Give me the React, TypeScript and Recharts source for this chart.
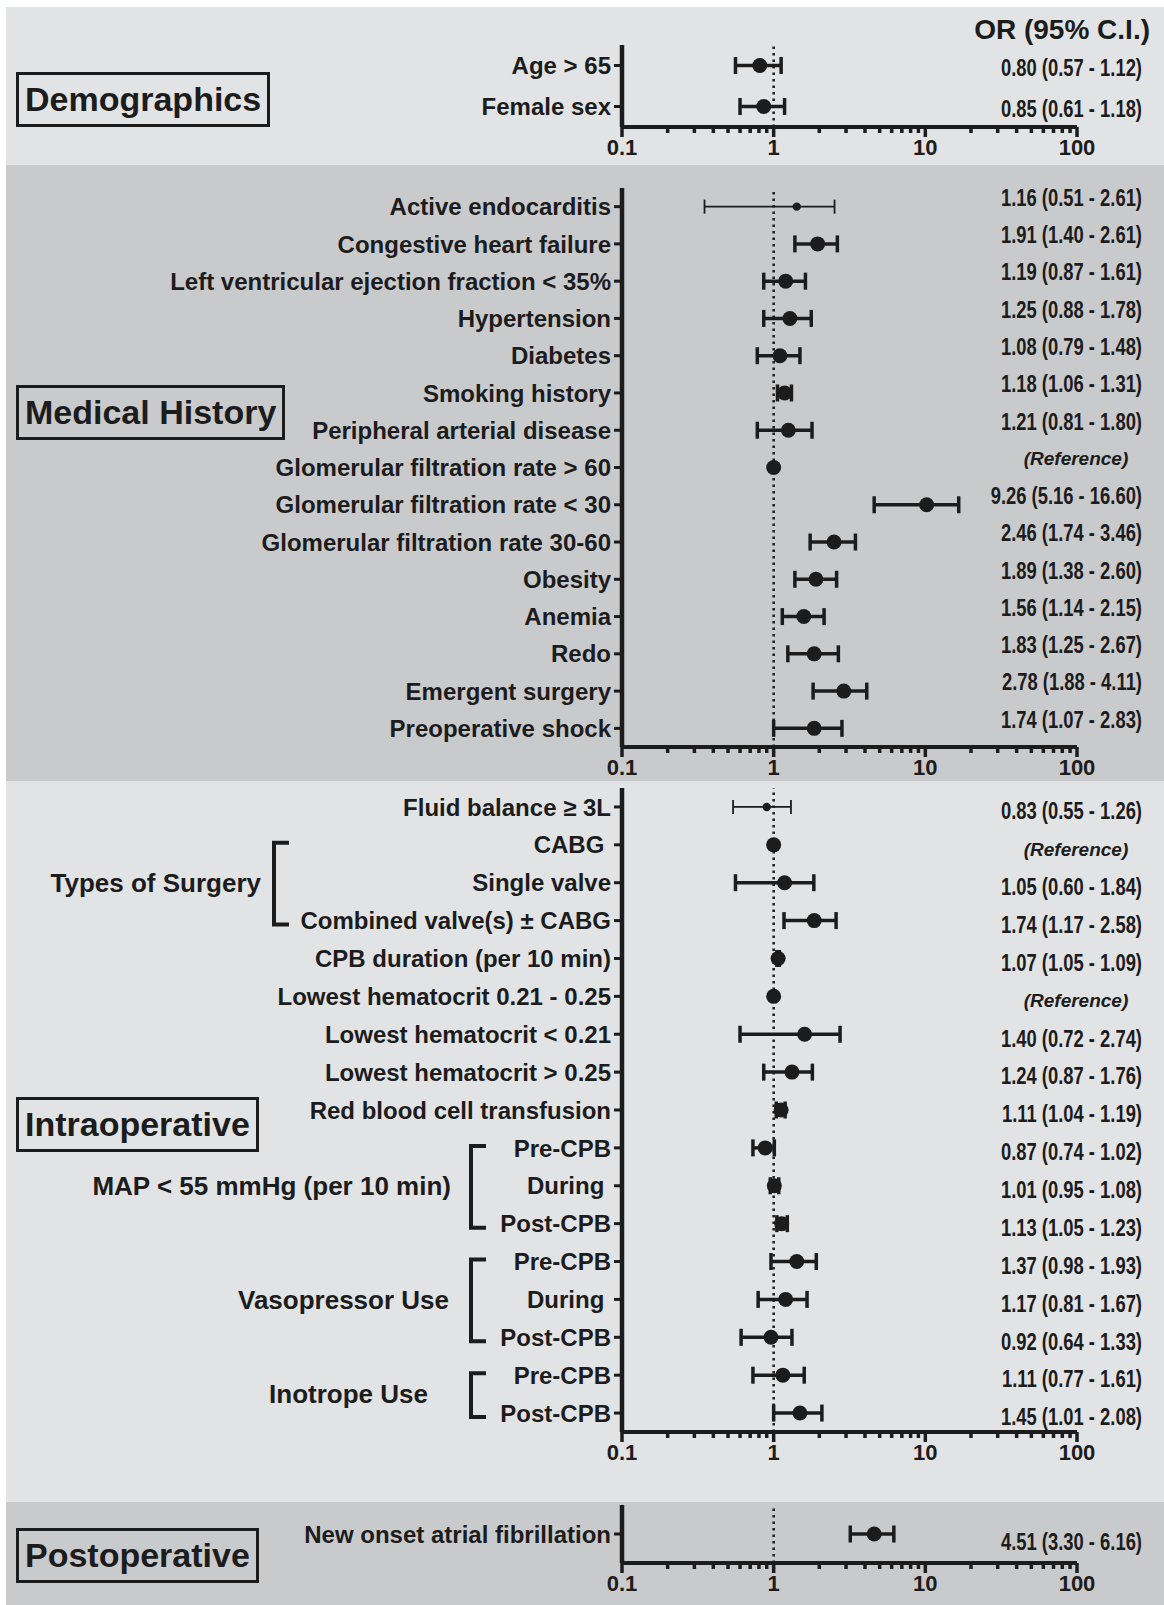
import React from "react";
import { ScatterChart, Scatter, XAxis, YAxis, ErrorBar, ReferenceLine } from "recharts";

const INK = "#1c1c1c";
const LIGHT = "#e2e3e5";
const DARK = "#c9cacc";
const SANS = '"Liberation Sans", Arial, Helvetica, sans-serif';

// x axis ticks (log scale 0.1 - 100)
const majorTicks = [0.1, 1, 10, 100];
const minorSteps = [2, 3, 4, 5, 6, 7, 8, 9];
const xTicks = [0.1, 1, 10].flatMap((d) => [d, ...minorSteps.map((m) => +(d * m).toFixed(2))]).concat([100]);

// Demographics
const demoLabels = ["Age > 65", "Female sex"];
const demoText = ["0.80 (0.57 - 1.12)", "0.85 (0.61 - 1.18)"];
const demoOR = [0.81, 0.86];
const demoLow = [0.56, 0.6];
const demoHigh = [1.12, 1.18];
const demoThin: number[] = [];

// Medical history
const medLabels = [
  "Active endocarditis",
  "Congestive heart failure",
  "Left ventricular ejection fraction < 35%",
  "Hypertension",
  "Diabetes",
  "Smoking history",
  "Peripheral arterial disease",
  "Glomerular filtration rate > 60",
  "Glomerular filtration rate < 30",
  "Glomerular filtration rate 30-60",
  "Obesity",
  "Anemia",
  "Redo",
  "Emergent surgery",
  "Preoperative shock",
];
const medText = [
  "1.16 (0.51 - 2.61)",
  "1.91 (1.40 - 2.61)",
  "1.19 (0.87 - 1.61)",
  "1.25 (0.88 - 1.78)",
  "1.08 (0.79 - 1.48)",
  "1.18 (1.06 - 1.31)",
  "1.21 (0.81 - 1.80)",
  "(Reference)",
  "9.26 (5.16 - 16.60)",
  "2.46 (1.74 - 3.46)",
  "1.89 (1.38 - 2.60)",
  "1.56 (1.14 - 2.15)",
  "1.83 (1.25 - 2.67)",
  "2.78 (1.88 - 4.11)",
  "1.74 (1.07 - 2.83)",
];
// plotted positions
const medOR = [1.42, 1.95, 1.2, 1.28, 1.1, 1.18, 1.25, 1, 10.2, 2.5, 1.9, 1.58, 1.85, 2.9, 1.85];
const medLow = [0.35, 1.38, 0.86, 0.86, 0.78, 1.06, 0.78, null, 4.6, 1.74, 1.38, 1.14, 1.24, 1.82, 1.0];
const medHigh = [2.52, 2.63, 1.62, 1.77, 1.49, 1.31, 1.79, null, 16.6, 3.46, 2.6, 2.15, 2.67, 4.11, 2.82];
const medThin = [0];

// Intraoperative
const intraLabels = [
  "Fluid balance \u2265 3L",
  "CABG\u00a0",
  "Single valve",
  "Combined valve(s) \u00b1 CABG",
  "CPB duration (per 10 min)",
  "Lowest hematocrit 0.21 - 0.25",
  "Lowest hematocrit < 0.21",
  "Lowest hematocrit > 0.25",
  "Red blood cell transfusion",
  "Pre-CPB",
  "During\u00a0",
  "Post-CPB",
  "Pre-CPB",
  "During\u00a0",
  "Post-CPB",
  "Pre-CPB",
  "Post-CPB",
];
const intraText = [
  "0.83 (0.55 - 1.26)",
  "(Reference)",
  "1.05 (0.60 - 1.84)",
  "1.74 (1.17 - 2.58)",
  "1.07 (1.05 - 1.09)",
  "(Reference)",
  "1.40 (0.72 - 2.74)",
  "1.24 (0.87 - 1.76)",
  "1.11 (1.04 - 1.19)",
  "0.87 (0.74 - 1.02)",
  "1.01 (0.95 - 1.08)",
  "1.13 (1.05 - 1.23)",
  "1.37 (0.98 - 1.93)",
  "1.17 (0.81 - 1.67)",
  "0.92 (0.64 - 1.33)",
  "1.11 (0.77 - 1.61)",
  "1.45 (1.01 - 2.08)",
];
const intraOR = [0.9, 1, 1.18, 1.85, 1.07, 1, 1.6, 1.32, 1.12, 0.88, 1.01, 1.13, 1.42, 1.2, 0.96, 1.15, 1.49];
const intraLow = [0.54, null, 0.56, 1.17, 1.05, null, 0.6, 0.86, 1.04, 0.73, 0.95, 1.05, 0.96, 0.79, 0.61, 0.73, 1.0];
const intraHigh = [1.3, null, 1.84, 2.58, 1.09, null, 2.74, 1.8, 1.19, 1.01, 1.08, 1.23, 1.91, 1.66, 1.32, 1.59, 2.08];
const intraThin = [0];

// Postoperative
const postLabels = ["New onset atrial fibrillation"];
const postText = ["4.51 (3.30 - 6.16)"];
const postOR = [4.6];
const postLow = [3.2];
const postHigh = [6.2];
const postThin: number[] = [];

type Row = { idx: number; or: number; err: number[] | null; kind: string };

function buildRows(or: number[], lo: (number | null)[], hi: (number | null)[], thin: number[]): Row[] {
  return or.map((v, i) => ({
    idx: i,
    or: v,
    err: lo[i] == null ? null : [v - (lo[i] as number), (hi[i] as number) - v],
    kind: lo[i] == null ? "ref" : thin.includes(i) ? "thin" : "thick",
  }));
}

const PANEL_LEFT = 6;
const PANEL_W = 1164 - PANEL_LEFT;
const Y_W = 616; // plot starts at x=622
const PLOT_W = 455; // plot ends at x=1077
const VALUE_RIGHT = 1142 - PANEL_LEFT;
const VALUE_MID = 1076 - PANEL_LEFT;

function XTick(props: any) {
  const { x, y, payload } = props;
  const major = majorTicks.includes(payload.value);
  return (
    <g>
      <line x1={x} x2={x} y1={y} y2={y + (major ? 10 : 6)} stroke={INK} strokeWidth={3.5} />
      {major && (
        <text x={x} y={y + 28} textAnchor="middle" fontFamily={SANS} fontWeight={700} fontSize={22} fill={INK}>
          {payload.value}
        </text>
      )}
    </g>
  );
}

function makeYTick(labels: string[], texts: string[], valueDy: number) {
  return function YTick(props: any) {
    const { x, y, payload } = props;
    const i = payload.value;
    const t = texts[i];
    const isRef = t === "(Reference)";
    return (
      <g>
        <text x={x} y={y} dy="0.36em" textAnchor="end" fontFamily={SANS} fontWeight={700} fontSize={24} fill={INK}>
          {labels[i]}
        </text>
        {isRef ? (
          <text
            x={VALUE_MID}
            y={y + valueDy}
            dy="0.36em"
            textAnchor="middle"
            fontFamily={SANS}
            fontStyle="italic"
            fontWeight={700}
            fontSize={19}
            fill={INK}
          >
            {t}
          </text>
        ) : (
          <text
            transform={`translate(${VALUE_RIGHT} ${y + valueDy}) scale(0.8 1)`}
            dy="0.36em"
            textAnchor="end"
            fontFamily={SANS}
            fontWeight={700}
            fontSize={23}
            fill={INK}
          >
            {t}
          </text>
        )}
      </g>
    );
  };
}

const dot = (r: number) => (p: any) => <circle cx={p.cx} cy={p.cy} r={r} fill={INK} />;

type PanelProps = {
  top: number;
  bottom: number;
  plotTop: number;
  plotBottom: number;
  bg: string;
  labels: string[];
  texts: string[];
  rows: Row[];
  valueDy: number;
};

function Panel({ top, bottom, plotTop, plotBottom, bg, labels, texts, rows, valueDy }: PanelProps) {
  const h = bottom - top;
  const n = labels.length;
  const yTicks = labels.map((_, i) => i);
  const thick = rows.filter((r) => r.kind === "thick");
  const thin = rows.filter((r) => r.kind === "thin");
  const refs = rows.filter((r) => r.kind === "ref");
  const YTick = makeYTick(labels, texts, valueDy);
  return (
    <div style={{ position: "absolute", left: PANEL_LEFT, top, width: PANEL_W, height: h, background: bg }}>
      <ScatterChart
        width={PANEL_W}
        height={h}
        margin={{ top: plotTop - top, right: PANEL_W - Y_W - PLOT_W, bottom: bottom - plotBottom - 20, left: 0 }}
      >
        <XAxis
          type="number"
          dataKey="or"
          scale="log"
          domain={[0.1, 100]}
          allowDataOverflow
          ticks={xTicks}
          interval={0}
          height={20}
          tickSize={0}
          tickMargin={0}
          tickLine={false}
          axisLine={{ stroke: INK, strokeWidth: 4 }}
          tick={<XTick />}
        />
        <YAxis
          type="number"
          dataKey="idx"
          domain={[-0.5, n - 0.5]}
          reversed
          allowDataOverflow
          ticks={yTicks}
          interval={0}
          width={Y_W}
          tickSize={8}
          tickMargin={3}
          tickLine={{ stroke: INK, strokeWidth: 3 }}
          axisLine={{ stroke: INK, strokeWidth: 4.5 }}
          tick={<YTick />}
        />
        <ReferenceLine x={1} stroke={INK} strokeWidth={2.5} strokeDasharray="2.5 4" />
        <Scatter data={thick} isAnimationActive={false} shape={dot(7.5)}>
          <ErrorBar dataKey="err" direction="x" width={8.5} stroke={INK} strokeWidth={3.5} />
        </Scatter>
        <Scatter data={thin} isAnimationActive={false} shape={dot(4.2)}>
          <ErrorBar dataKey="err" direction="x" width={7} stroke={INK} strokeWidth={1.8} />
        </Scatter>
        <Scatter data={refs} isAnimationActive={false} shape={dot(7.5)} />
      </ScatterChart>
    </div>
  );
}

function SectionBox({ text, top }: { text: string; top: number }) {
  return (
    <div
      style={{
        position: "absolute",
        left: 16,
        top,
        height: 49,
        lineHeight: "49px",
        border: `3px solid ${INK}`,
        padding: "0 6px",
        fontFamily: SANS,
        fontWeight: 700,
        fontSize: 34,
        color: INK,
        whiteSpace: "nowrap",
      }}
    >
      {text}
    </div>
  );
}

// intraoperative layout used for group brackets
const INTRA = { top: 781, bottom: 1502, plotTop: 788, plotBottom: 1432 };
const intraRowY = (i: number) =>
  INTRA.plotTop + ((i + 0.5) * (INTRA.plotBottom - INTRA.plotTop)) / intraLabels.length;

const groups = [
  { label: "Types of Surgery", from: 1, to: 3, labelRight: 261, labelRow: 2, bx: 274 },
  { label: "MAP < 55 mmHg (per 10 min)", from: 9, to: 11, labelRight: 451, labelRow: 10, bx: 471 },
  { label: "Vasopressor Use", from: 12, to: 14, labelRight: 449, labelRow: 13, bx: 471 },
  { label: "Inotrope Use", from: 15, to: 16, labelRight: 428, labelRow: 15.5, bx: 471 },
];

export default function App() {
  return (
    <div style={{ position: "absolute", left: 0, top: 0, width: 1164, height: 1605, background: "#ffffff", overflow: "hidden" }}>
      <Panel
        top={7}
        bottom={165}
        plotTop={45}
        plotBottom={127}
        bg={LIGHT}
        labels={demoLabels}
        texts={demoText}
        rows={buildRows(demoOR, demoLow, demoHigh, demoThin)}
        valueDy={2}
      />
      <Panel
        top={165}
        bottom={INTRA.top}
        plotTop={188}
        plotBottom={747}
        bg={DARK}
        labels={medLabels}
        texts={medText}
        rows={buildRows(medOR, medLow, medHigh, medThin)}
        valueDy={-9}
      />
      <Panel
        top={INTRA.top}
        bottom={INTRA.bottom}
        plotTop={INTRA.plotTop}
        plotBottom={INTRA.plotBottom}
        bg={LIGHT}
        labels={intraLabels}
        texts={intraText}
        rows={buildRows(intraOR, intraLow, intraHigh, intraThin)}
        valueDy={4}
      />
      <Panel
        top={1502}
        bottom={1605}
        plotTop={1505}
        plotBottom={1563}
        bg={DARK}
        labels={postLabels}
        texts={postText}
        rows={buildRows(postOR, postLow, postHigh, postThin)}
        valueDy={8}
      />

      <div
        style={{
          position: "absolute",
          right: 14,
          top: 14,
          fontFamily: SANS,
          fontWeight: 700,
          fontSize: 28,
          color: INK,
          lineHeight: "32px",
        }}
      >
        OR (95% C.I.)
      </div>

      <SectionBox text="Demographics" top={72} />
      <SectionBox text="Medical History" top={385} />
      <SectionBox text="Intraoperative" top={1097} />
      <SectionBox text="Postoperative" top={1528} />

      <svg style={{ position: "absolute", left: 0, top: 0 }} width={1164} height={1605}>
        {groups.map((g) => {
          const y1 = intraRowY(g.from) - 2;
          const y2 = intraRowY(g.to) + 4;
          return (
            <g key={g.label}>
              <path
                d={`M ${g.bx + 15} ${y1} H ${g.bx} V ${y2} H ${g.bx + 15}`}
                fill="none"
                stroke={INK}
                strokeWidth={4}
              />
              <text
                x={g.labelRight}
                y={intraRowY(g.labelRow)}
                dy="0.36em"
                textAnchor="end"
                fontFamily={SANS}
                fontWeight={700}
                fontSize={26}
                fill={INK}
              >
                {g.label}
              </text>
            </g>
          );
        })}
      </svg>
    </div>
  );
}
